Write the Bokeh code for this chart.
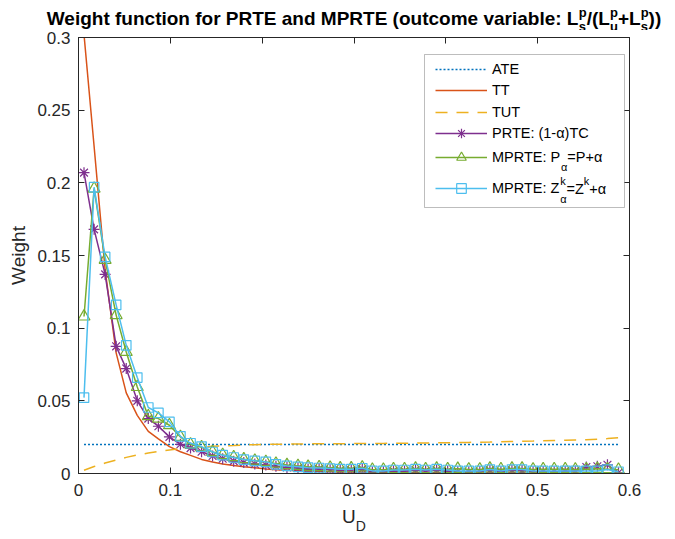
from bokeh.plotting import figure
from bokeh.layouts import column
from bokeh.models import FixedTicker, LinearAxis, Label, Legend, LegendItem, BoxAnnotation
from bokeh.core.properties import value
from bokeh.embed import file_html
from bokeh.resources import INLINE

# ---------------- data ----------------
u = [0.006, 0.017, 0.029, 0.041, 0.052, 0.064, 0.076, 0.087, 0.099, 0.111,
     0.122, 0.134, 0.146, 0.157, 0.169, 0.180, 0.192, 0.204, 0.215, 0.227,
     0.239, 0.250, 0.262, 0.274, 0.285, 0.297, 0.309, 0.320, 0.332, 0.343,
     0.355, 0.367, 0.378, 0.390, 0.402, 0.413, 0.425, 0.437, 0.448, 0.460,
     0.472, 0.483, 0.495, 0.506, 0.518, 0.530, 0.541, 0.553, 0.565, 0.576, 0.588]

ate_level = 0.0199

tt = [0.302, 0.225, 0.140, 0.083, 0.0555, 0.040, 0.029, 0.0238, 0.0185, 0.015,
      0.0125, 0.0097, 0.0079, 0.0066, 0.0055, 0.0046, 0.0039, 0.0031, 0.0026, 0.0022,
      0.0019, 0.0016, 0.0014, 0.0012, 0.0011, 0.0010, 0.0009, 0.0008, 0.0007, 0.0007,
      0.0006, 0.0006, 0.0005, 0.0005, 0.0004, 0.0004, 0.0004, 0.0003, 0.0003, 0.0003,
      0.0003, 0.0002, 0.0002, 0.0002, 0.0002, 0.0002, 0.0002, 0.0001, 0.0001, 0.0001, 0.0001]

tut = [0.0022, 0.0048, 0.0072, 0.0093, 0.0111, 0.0127, 0.0141, 0.0152, 0.0162, 0.0170,
       0.0176, 0.0182, 0.0187, 0.0190, 0.0193, 0.0196, 0.0198, 0.0200, 0.0201, 0.0202,
       0.0203, 0.0204, 0.0204, 0.0205, 0.0205, 0.0206, 0.0206, 0.0207, 0.0207, 0.0208,
       0.0208, 0.0209, 0.0210, 0.0211, 0.0212, 0.0213, 0.0214, 0.0215, 0.0216, 0.0219,
       0.0220, 0.0222, 0.0223, 0.0225, 0.0227, 0.0229, 0.0231, 0.0233, 0.0236, 0.0240, 0.0246]

prte = [0.207, 0.168, 0.137, 0.0875, 0.0722, 0.050, 0.0378, 0.0325, 0.0252, 0.0201,
        0.0175, 0.0150, 0.0120, 0.0102, 0.0085, 0.0075, 0.0065, 0.0058, 0.0050, 0.0042,
        0.0038, 0.0030, 0.0032, 0.0026, 0.0022, 0.0024, 0.0030, 0.0010, 0.0012, 0.0018,
        0.0016, 0.0024, 0.0018, 0.0024, 0.0016, 0.0012, 0.0010, 0.0014, 0.0022, 0.0012,
        0.0022, 0.0020, 0.0012, 0.0014, 0.0012, 0.0016, 0.0018, 0.0045, 0.0050, 0.0060, 0.0005]

mprte_p = [0.108, 0.196, 0.147, 0.109, 0.0836, 0.0595, 0.0394, 0.0378, 0.0332, 0.0252,
           0.0200, 0.0180, 0.0148, 0.0128, 0.0112, 0.0098, 0.0088, 0.0080, 0.0068, 0.0058,
           0.0052, 0.0046, 0.0044, 0.0040, 0.0036, 0.0036, 0.0042, 0.0026, 0.0026, 0.0030,
           0.0030, 0.0034, 0.0030, 0.0034, 0.0030, 0.0032, 0.0028, 0.0028, 0.0034, 0.0030,
           0.0034, 0.0034, 0.0028, 0.0030, 0.0030, 0.0030, 0.0028, 0.0030, 0.0032, 0.0030, 0.0026]

mprte_z = [0.0522, 0.197, 0.149, 0.116, 0.0882, 0.066, 0.0454, 0.0417, 0.0355, 0.0256,
           0.0208, 0.0185, 0.0148, 0.0126, 0.0110, 0.0096, 0.0087, 0.0080, 0.0063, 0.0052,
           0.0046, 0.0040, 0.0038, 0.0034, 0.0030, 0.0030, 0.0036, 0.0018, 0.0018, 0.0024,
           0.0024, 0.0030, 0.0024, 0.0030, 0.0024, 0.0018, 0.0018, 0.0018, 0.0027, 0.0018,
           0.0027, 0.0027, 0.0018, 0.0018, 0.0018, 0.0018, 0.0018, 0.0018, 0.0018, 0.0027, 0.0012]

x_ticks = [0, 0.1, 0.2, 0.3, 0.4, 0.5, 0.6]
x_tick_labels = ["0", "0.1", "0.2", "0.3", "0.4", "0.5", "0.6"]
y_ticks = [0, 0.05, 0.1, 0.15, 0.2, 0.25, 0.3]
y_tick_labels = ["0", "0.05", "0.1", "0.15", "0.2", "0.25", "0.3"]

# ---------------- styling ----------------
FONT = "Liberation Sans"
AX = "#262626"
C_ATE, C_TT, C_TUT = "#0072BD", "#D95319", "#EDB120"
C_PRTE, C_P, C_Z = "#7E2F8E", "#77AC30", "#4DBEEE"
W = 675
TITLE_H, MAIN_H, XLAB_H = 30, 473, 36
# frame (page px): left 78, right 629, top 37, bottom 473
FL, FB = 78, 473


def no_align(f):
    if "frame_align" in f.properties():
        f.frame_align = False


def bare_fig(h):
    f = figure(width=W, height=h, x_range=(0, 1), y_range=(0, 1),
               x_axis_type=None, y_axis_type=None, output_backend="svg",
               toolbar_location=None, min_border=0, outline_line_color=None)
    f.min_border_left = f.min_border_right = f.min_border_top = f.min_border_bottom = 0
    f.background_fill_color = "white"
    f.border_fill_color = "white"
    no_align(f)
    return f


p_title = bare_fig(TITLE_H)
p_xlab = bare_fig(XLAB_H)

p = figure(width=W, height=MAIN_H, x_range=(0, 0.6), y_range=(0, 0.3),
           output_backend="svg", toolbar_location=None,
           min_border_left=78, min_border_right=46, min_border_top=7, min_border_bottom=30)
no_align(p)
p.background_fill_color = "white"
p.border_fill_color = "white"
p.outline_line_color = AX
p.grid.visible = False

bottom_ax = p.below[0]
left_ax = p.left[0]
bottom_ax.ticker = FixedTicker(ticks=x_ticks)
bottom_ax.major_label_overrides = dict(zip(x_ticks, x_tick_labels))
left_ax.ticker = FixedTicker(ticks=y_ticks)
left_ax.major_label_overrides = dict(zip(y_ticks, y_tick_labels))

top_ax = LinearAxis(ticker=FixedTicker(ticks=x_ticks))
right_ax = LinearAxis(ticker=FixedTicker(ticks=y_ticks))
p.add_layout(top_ax, "above")
p.add_layout(right_ax, "right")

for ax in [bottom_ax, left_ax, top_ax, right_ax]:
    ax.axis_line_color = AX
    ax.major_tick_line_color = AX
    ax.major_tick_in = 6
    ax.major_tick_out = 0
    ax.minor_tick_line_color = None
    ax.major_label_text_font = FONT
for ax in [bottom_ax, left_ax]:
    ax.major_label_text_font_size = "17px"
    ax.major_label_text_color = AX
for ax in [top_ax, right_ax]:
    ax.major_label_text_font_size = "0px"
    ax.major_label_text_color = None
    ax.major_label_standoff = 0
bottom_ax.major_label_standoff = 10
left_ax.major_label_standoff = 8

left_ax.axis_label = "Weight"
left_ax.axis_label_text_font = FONT
left_ax.axis_label_text_font_size = "19px"
left_ax.axis_label_text_font_style = "normal"
left_ax.axis_label_text_color = AX
left_ax.axis_label_standoff = 5

# ---------------- series ----------------
r_ate = p.line(u, [ate_level] * len(u), line_color=C_ATE, line_width=1.5, line_dash="2 2")
r_tt = p.line(u, tt, line_color=C_TT, line_width=1.5)
r_tut = p.line(u, tut, line_color=C_TUT, line_width=1.5, line_dash="12 9")

r_prte_l = p.line(u, prte, line_color=C_PRTE, line_width=1.5)
r_prte_m = p.scatter(u, prte, marker="asterisk", size=11, line_color=C_PRTE, line_width=1.2)
r_p_l = p.line(u, mprte_p, line_color=C_P, line_width=1.5)
r_p_m = p.scatter(u, mprte_p, marker="triangle", size=12, line_color=C_P, fill_color=None, line_width=1.2)
r_z_l = p.line(u, mprte_z, line_color=C_Z, line_width=1.5)
r_z_m = p.scatter(u, mprte_z, marker="square", size=9.5, line_color=C_Z, fill_color=None, line_width=1.2)

# ---------------- text helpers ----------------
REG = {" ": 278, "(": 333, ")": 333, "+": 584, "-": 333, ".": 278, "/": 278, ":": 278, "=": 584,
       "A": 667, "C": 722, "D": 722, "E": 667, "L": 556, "M": 833, "P": 667, "R": 722, "T": 611,
       "U": 722, "W": 944, "Z": 611, "k": 500, "α": 578, "1": 556}
BOLD = {" ": 278, "(": 333, ")": 333, "+": 584, "/": 278, ":": 333,
        "A": 722, "E": 667, "L": 611, "M": 833, "P": 667, "R": 722, "T": 611, "W": 944,
        "a": 556, "b": 611, "c": 556, "d": 611, "e": 556, "f": 333, "g": 611, "h": 611, "i": 278,
        "l": 278, "m": 889, "n": 611, "o": 611, "p": 611, "r": 389, "s": 556, "t": 333, "u": 611,
        "v": 556}


def tw(s, size, bold=False):
    tab = BOLD if bold else REG
    return sum(tab.get(c, 556) for c in s) * size / 1000.0


def put(fig, left, bottom, text, px, py, size, bold=False, color="black", baseline="alphabetic"):
    """Place a text piece at page position (px, py); left/bottom are the page
    coordinates of that figure's frame corner."""
    fig.add_layout(Label(x=px - left, y=bottom - py, x_units="screen", y_units="screen", text=text,
                         text_font=FONT, text_font_size=f"{size}px",
                         text_font_style="bold" if bold else "normal",
                         text_color=color, text_align="left", text_baseline=baseline))


# ---------------- title (own strip above the plot) ----------------
TS, SS = 19, 13
title_parts = [("Weight function for PRTE and MPRTE (outcome variable: L", None),
               ("p", "s"), ("/(L", None), ("p", "u"), ("+L", None), ("p", "s"), ("))", None)]
total = 0
for a, b in title_parts:
    total += tw(a, TS, True) if b is None else max(tw(a, SS, True), tw(b, SS, True))
x0 = (78 + 629) / 2 - total / 2
base, sup_b, sub_b = 17.5, 12, 26
for a, b in title_parts:
    if b is None:
        put(p_title, 0, TITLE_H, a, x0, base, TS, True)
        x0 += tw(a, TS, True)
    else:
        put(p_title, 0, TITLE_H, a, x0, sup_b, SS, True)
        put(p_title, 0, TITLE_H, b, x0, sub_b, SS, True)
        x0 += max(tw(a, SS, True), tw(b, SS, True))

# ---------------- x label (own strip below the plot) ----------------
LS, LSS = 19, 14
xl_top = TITLE_H + MAIN_H
xl_total = tw("U", LS) + tw("D", LSS)
xs = (78 + 629) / 2 - xl_total / 2
put(p_xlab, 0, xl_top + XLAB_H, "U", xs, 516, LS, color=AX)
put(p_xlab, 0, xl_top + XLAB_H, "D", xs + tw("U", LS), 525, LSS, color=AX)

# ---------------- legend ----------------
p.add_layout(BoxAnnotation(left=424 - FL, right=624 - FL, top=FB - 54, bottom=FB - 207,
                           left_units="screen", right_units="screen",
                           top_units="screen", bottom_units="screen",
                           fill_color="white", fill_alpha=1.0, line_color=AX, line_width=1))

GW, GH, LSTAND = 52, 24, 5
LFS = 14.5
rows = [("ATE", [r_ate], 69), ("TT", [r_tt], 90), ("TUT", [r_tut], 111.7),
        ("PRTE: (1-α)TC", [r_prte_l, r_prte_m], 133.3),
        ("MPRTE: P", [r_p_l, r_p_m], 156.7), ("MPRTE: Z", [r_z_l, r_z_m], 188.3)]
for lab, rends, cy in rows:
    lg = Legend(items=[LegendItem(label=value(lab), renderers=rends)],
                location=(435 - FL, FB - cy - GH / 2),
                glyph_width=GW, glyph_height=GH, label_height=20, label_standoff=LSTAND,
                padding=0, spacing=0, margin=0, border_line_color=None,
                background_fill_alpha=0, label_text_font=FONT,
                label_text_font_size=f"{LFS}px", label_text_color="black")
    p.add_layout(lg)

tx = 435 + GW + LSTAND
SUBS = 11
# row 5: P_alpha = P + alpha
xa = tx + tw("MPRTE: P", LFS)
put(p, FL, FB, "α", xa, 166, SUBS, baseline="middle")
put(p, FL, FB, "=P+α", xa + tw("α", SUBS), 156.7, LFS, baseline="middle")
# row 6: Z^k_alpha = Z^k + alpha
xb = tx + tw("MPRTE: Z", LFS)
put(p, FL, FB, "k", xb, 180.5, SUBS, baseline="middle")
put(p, FL, FB, "α", xb, 198.3, SUBS, baseline="middle")
xb += tw("α", SUBS)
put(p, FL, FB, "=Z", xb, 188.3, LFS, baseline="middle")
xb += tw("=Z", LFS)
put(p, FL, FB, "k", xb, 180.5, SUBS, baseline="middle")
xb += tw("k", SUBS)
put(p, FL, FB, "+α", xb, 188.3, LFS, baseline="middle")

layout = column(p_title, p, p_xlab, spacing=0)
open("out.html", "w").write(file_html(layout, INLINE))
